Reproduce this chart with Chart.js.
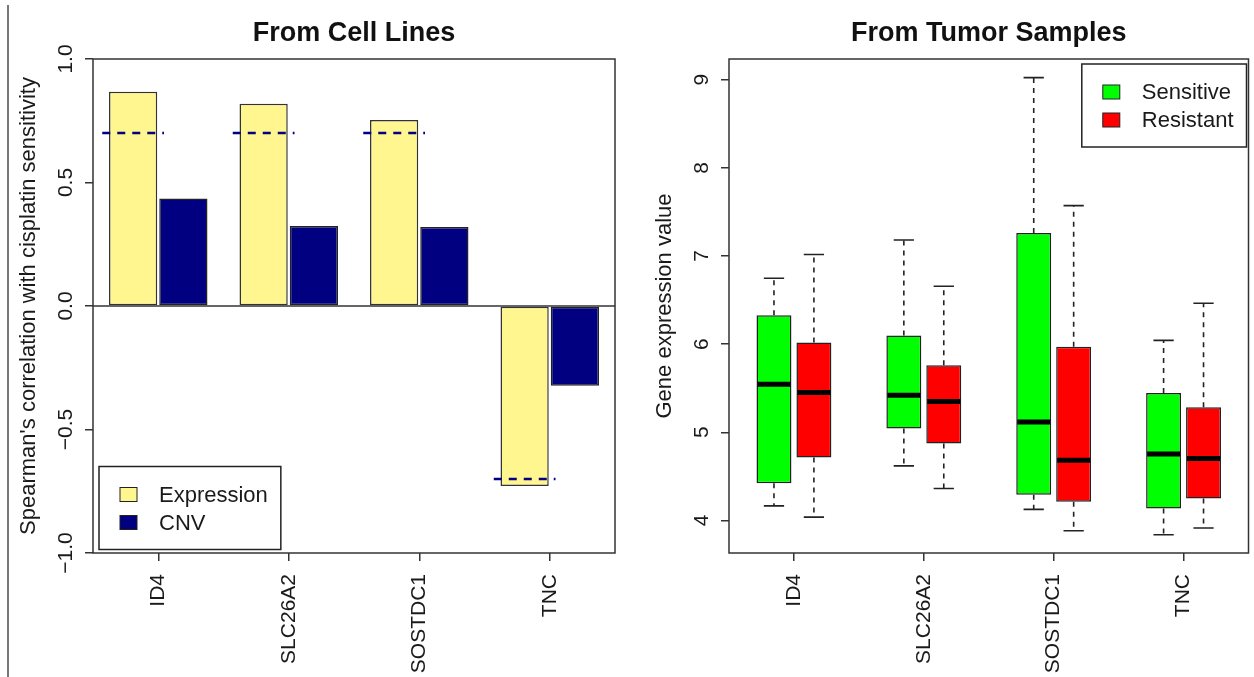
<!DOCTYPE html>
<html lang="en">
<head>
<meta charset="UTF-8">
<title>Cisplatin sensitivity genes</title>
<script src="https://cdn.jsdelivr.net/npm/chart.js@4/dist/chart.umd.min.js"></script>
<style>
  html, body { margin: 0; padding: 0; background: #fff; }
  #wrap { position: relative; width: 1254px; height: 677px; overflow: hidden; }
  #edge { position: absolute; left: 7px; top: 5px; height: 672px; border-left: 2px solid #777; }
  #cellChart { position: absolute; left: 0; top: 0; }
  #tumorChart { position: absolute; left: 627px; top: 0; }
</style>
</head>
<body>
<div id="wrap">
  <canvas id="cellChart" width="627" height="677"></canvas>
  <canvas id="tumorChart" width="627" height="677"></canvas>
  <div id="edge"></div>
</div>
<script>
// genes shown in both panels
const genes = ['ID4', 'SLC26A2', 'SOSTDC1', 'TNC'];

// left panel: Spearman correlation with cisplatin sensitivity
const expressionCorr = [0.867, 0.819, 0.753, -0.729];
const cnvCorr = [0.435, 0.324, 0.320, -0.323];
const cutoff = [0.7, 0.7, 0.7, -0.7];
const corrTicks = [-1.0, -0.5, 0.0, 0.5, 1.0];

// right panel: boxplot stats (whisker low, Q1, median, Q3, whisker high)
const sensMin = [4.165, 4.618, 4.125, 3.837];
const sensQ1 = [4.422, 5.042, 4.290, 4.136];
const sensMedian = [5.544, 5.419, 5.117, 4.754];
const sensQ3 = [6.328, 6.099, 7.262, 5.445];
const sensMax = [6.747, 7.182, 9.024, 6.042];

const resMin = [4.037, 4.362, 3.882, 3.913];
const resQ1 = [4.713, 4.872, 4.211, 4.249];
const resMedian = [5.450, 5.348, 4.683, 4.702];
const resQ3 = [6.019, 5.759, 5.970, 5.283];
const resMax = [7.016, 6.657, 7.571, 6.464];

const exprTicks = [4, 5, 6, 7, 8, 9];

const FONT = "'Liberation Sans', Arial, sans-serif";
Chart.defaults.font.family = FONT;
Chart.defaults.color = '#1a1a1a';

// helpers for the R-like look
function drawFrame(chart) {
  const { ctx, chartArea: a } = chart;
  ctx.save();
  ctx.strokeStyle = '#333';
  ctx.lineWidth = 1.5;
  ctx.strokeRect(a.left, a.top, a.right - a.left, a.bottom - a.top);
  ctx.restore();
}

function drawTitle(chart, text) {
  const { ctx, chartArea: a } = chart;
  ctx.save();
  ctx.font = 'bold 27px ' + FONT;
  ctx.fillStyle = '#111';
  ctx.textAlign = 'center';
  ctx.textBaseline = 'middle';
  ctx.fillText(text, (a.left + a.right) / 2, 34);
  ctx.restore();
}

function drawYLabels(chart, values, fmt) {
  const { ctx, chartArea: a } = chart;
  const y = chart.scales.y;
  ctx.save();
  ctx.font = '21px ' + FONT;
  ctx.fillStyle = '#1a1a1a';
  ctx.textAlign = 'center';
  ctx.textBaseline = 'middle';
  values.forEach(v => {
    ctx.save();
    ctx.translate(a.left - 27, y.getPixelForValue(v));
    ctx.rotate(-Math.PI / 2);
    ctx.fillText(fmt(v), 0, 0);
    ctx.restore();
  });
  ctx.restore();
}

function drawLegend(chart, x, y, alignRight) {
  const { ctx } = chart;
  const sets = chart.data.datasets;
  ctx.save();
  ctx.font = '22px ' + FONT;
  let tw = 0;
  sets.forEach(d => { tw = Math.max(tw, ctx.measureText(d.label).width); });
  const w = 60 + tw + 13, h = 83;
  const left = alignRight ? x - w : x;
  const top = y - (alignRight ? 0 : h);
  ctx.fillStyle = '#fff';
  ctx.fillRect(left, top, w, h);
  ctx.strokeStyle = '#222';
  ctx.lineWidth = 1.5;
  ctx.strokeRect(left, top, w, h);
  sets.forEach((d, i) => {
    const cy = top + 28 + i * 28;
    ctx.fillStyle = d.backgroundColor;
    ctx.fillRect(left + 21, cy - 7, 17, 14);
    ctx.strokeStyle = '#222';
    ctx.lineWidth = 1;
    ctx.strokeRect(left + 21, cy - 7, 17, 14);
    ctx.fillStyle = '#1a1a1a';
    ctx.textAlign = 'left';
    ctx.textBaseline = 'middle';
    ctx.fillText(d.label, left + 60, cy + 1);
  });
  ctx.restore();
}

const axisGrid = { drawOnChartArea: false, offset: false, tickLength: 8, color: '#333', lineWidth: 1.5 };
const xTicks = { minRotation: 90, maxRotation: 90, padding: 13, font: { size: 21 }, color: '#1a1a1a', autoSkip: false };

// left panel
const cellPlugin = {
  id: 'cellExtras',
  afterDatasetsDraw(chart) {
    const { ctx, chartArea: a } = chart;
    const y = chart.scales.y;
    ctx.save();
    // zero line
    ctx.strokeStyle = '#333';
    ctx.lineWidth = 1.5;
    ctx.beginPath();
    ctx.moveTo(a.left, y.getPixelForValue(0));
    ctx.lineTo(a.right, y.getPixelForValue(0));
    ctx.stroke();
    // dashed +/-0.7 marks over the expression bars
    const meta = chart.getDatasetMeta(0);
    ctx.strokeStyle = '#000080';
    ctx.lineWidth = 2.5;
    ctx.setLineDash([8, 7]);
    meta.data.forEach((bar, i) => {
      const py = y.getPixelForValue(cutoff[i]);
      ctx.beginPath();
      ctx.moveTo(bar.x - bar.width * 0.64, py);
      ctx.lineTo(bar.x + bar.width * 0.64, py);
      ctx.stroke();
    });
    ctx.restore();
  },
  afterDraw(chart) {
    drawFrame(chart);
    drawTitle(chart, 'From Cell Lines');
    drawYLabels(chart, corrTicks, v => v.toFixed(1).replace('-', '\u2212'));
    drawLegend(chart, chart.chartArea.left + 6, chart.chartArea.bottom - 3.5, false);
  }
};

new Chart(document.getElementById('cellChart'), {
  type: 'bar',
  data: {
    labels: genes,
    datasets: [
      { label: 'Expression', data: expressionCorr, backgroundColor: '#FFF68F', borderColor: '#333',
        borderWidth: 1.5, borderSkipped: false, categoryPercentage: 0.77, barPercentage: 0.96 },
      { label: 'CNV', data: cnvCorr, backgroundColor: '#000080', borderColor: '#222',
        borderWidth: 1.5, borderSkipped: false, categoryPercentage: 0.77, barPercentage: 0.96 }
    ]
  },
  options: {
    responsive: false,
    animation: false,
    layout: { padding: { top: 59, right: 12, left: 0, bottom: 0 } },
    plugins: { legend: { display: false }, tooltip: { enabled: false } },
    scales: {
      x: {
        grid: axisGrid,
        border: { display: false },
        ticks: xTicks,
        afterFit(s) { s.height = 124; }
      },
      y: {
        min: -1, max: 1,
        afterBuildTicks(s) { s.ticks = corrTicks.map(v => ({ value: v })); },
        grid: axisGrid,
        border: { display: false },
        ticks: { display: false },
        title: { display: true, text: "Spearman's correlation with cisplatin sensitivity",
                 font: { size: 22 }, color: '#1a1a1a', padding: { top: 16, bottom: 0 } },
        afterFit(s) { s.width = 93; }
      }
    }
  },
  plugins: [cellPlugin]
});

// right panel
const boxStats = [
  { min: sensMin, q1: sensQ1, med: sensMedian, q3: sensQ3, max: sensMax },
  { min: resMin, q1: resQ1, med: resMedian, q3: resQ3, max: resMax }
];

const tumorPlugin = {
  id: 'tumorExtras',
  afterDatasetsDraw(chart) {
    const { ctx } = chart;
    const y = chart.scales.y;
    ctx.save();
    boxStats.forEach((st, d) => {
      chart.getDatasetMeta(d).data.forEach((bar, i) => {
        const x = bar.x, w = bar.width;
        // whiskers
        ctx.strokeStyle = '#222';
        ctx.lineWidth = 1.6;
        ctx.setLineDash([5, 5]);
        ctx.beginPath();
        ctx.moveTo(x, y.getPixelForValue(st.q3[i]));
        ctx.lineTo(x, y.getPixelForValue(st.max[i]));
        ctx.moveTo(x, y.getPixelForValue(st.q1[i]));
        ctx.lineTo(x, y.getPixelForValue(st.min[i]));
        ctx.stroke();
        // staples
        ctx.setLineDash([]);
        ctx.beginPath();
        ctx.moveTo(x - w * 0.29, y.getPixelForValue(st.max[i]));
        ctx.lineTo(x + w * 0.29, y.getPixelForValue(st.max[i]));
        ctx.moveTo(x - w * 0.29, y.getPixelForValue(st.min[i]));
        ctx.lineTo(x + w * 0.29, y.getPixelForValue(st.min[i]));
        ctx.stroke();
        // median
        ctx.strokeStyle = '#000';
        ctx.lineWidth = 5;
        ctx.beginPath();
        ctx.moveTo(x - w / 2 + 1, y.getPixelForValue(st.med[i]));
        ctx.lineTo(x + w / 2 - 1, y.getPixelForValue(st.med[i]));
        ctx.stroke();
      });
    });
    ctx.restore();
  },
  afterDraw(chart) {
    drawFrame(chart);
    drawTitle(chart, 'From Tumor Samples');
    drawYLabels(chart, exprTicks, v => String(v));
    drawLegend(chart, chart.chartArea.right - 2, chart.chartArea.top + 5, true);
  }
};

new Chart(document.getElementById('tumorChart'), {
  type: 'bar',
  data: {
    labels: genes,
    datasets: [
      { label: 'Sensitive', data: genes.map((g, i) => [sensQ1[i], sensQ3[i]]), backgroundColor: '#00FF00',
        borderColor: '#222', borderWidth: 1.5, borderSkipped: false, categoryPercentage: 0.615, barPercentage: 0.875 },
      { label: 'Resistant', data: genes.map((g, i) => [resQ1[i], resQ3[i]]), backgroundColor: '#FF0000',
        borderColor: '#222', borderWidth: 1.5, borderSkipped: false, categoryPercentage: 0.615, barPercentage: 0.875 }
    ]
  },
  options: {
    responsive: false,
    animation: false,
    layout: { padding: { top: 59, right: 5.5, left: 0, bottom: 0 } },
    plugins: { legend: { display: false }, tooltip: { enabled: false } },
    scales: {
      x: {
        grid: axisGrid,
        border: { display: false },
        ticks: xTicks,
        afterFit(s) { s.height = 124; }
      },
      y: {
        min: 3.63, max: 9.235,
        afterBuildTicks(s) { s.ticks = exprTicks.map(v => ({ value: v })); },
        grid: axisGrid,
        border: { display: false },
        ticks: { display: false },
        title: { display: true, text: 'Gene expression value',
                 font: { size: 22 }, color: '#1a1a1a', padding: { top: 25, bottom: 0 } },
        afterFit(s) { s.width = 102; }
      }
    }
  },
  plugins: [tumorPlugin]
});
</script>
</body>
</html>
